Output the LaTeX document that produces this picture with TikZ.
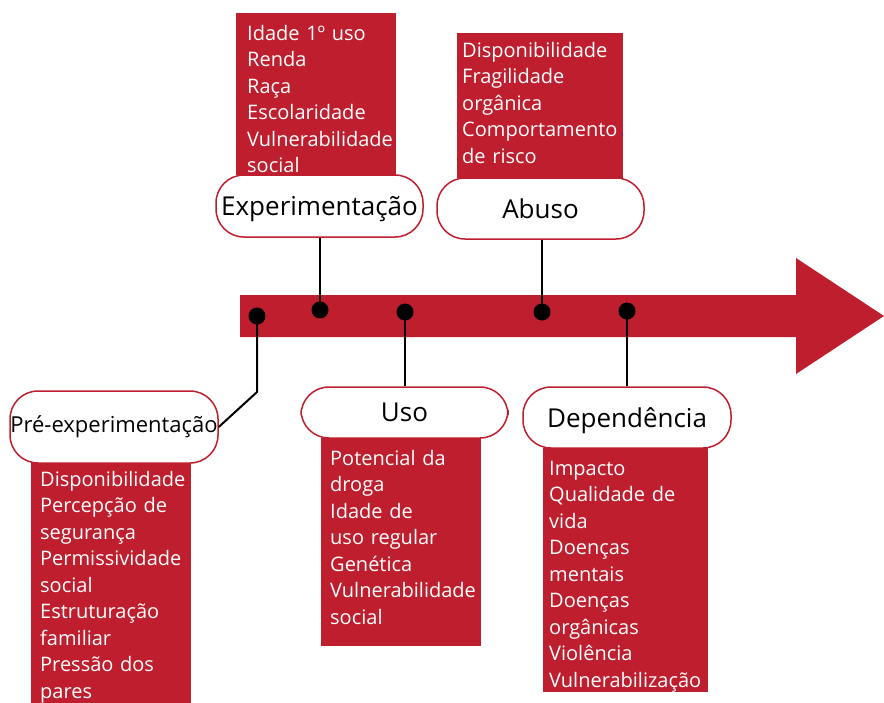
\documentclass[tikz,border=0pt]{standalone}
\usepackage{fontspec}
\setmainfont{Open Sans}
\definecolor{crimson}{RGB}{190,30,45}
\tikzset{
	stage/.style={draw=crimson, line width=1.5pt, fill=white, rounded corners=28pt,
		minimum width=207pt, inner sep=0pt, font=\fontsize{26}{30}\selectfont},
	factors/.style={fill=crimson, text=white, anchor=north west, align=left, inner ysep=0pt,
		font=\fontsize{20}{26.5}\selectfont},
	dot/.style={circle, fill=black, inner sep=0pt, minimum size=17pt},
	link/.style={line width=2pt}
}
\begin{document}
\begin{tikzpicture}[x=1pt, y=-1pt]
	\useasboundingbox (0,0) rectangle (884,702);
	% timeline
	\fill[crimson] (240,295) -- (796,295) -- (796,258) -- (884,316)
		-- (796,374) -- (796,337) -- (240,337) -- cycle;
	% factor lists
	\node[factors, inner xsep=11pt, text width=138pt, text height=27pt, text depth=135pt]
		(expfac) at (236,13)
		{Idade 1º uso\\Renda\\Raça\\Escolaridade\\Vulnerabilidade\\social};
	\node[factors, inner xsep=5pt, text width=156pt, text height=24pt, text depth=121pt]
		(abufac) at (457,33)
		{Disponibilidade\\Fragilidade\\orgânica\\Comportamento\\de risco};
	\node[factors, inner xsep=9pt, text width=142pt, text height=23pt, text depth=221pt]
		(prefac) at (31,463)
		{Disponibilidade\\Percepção de\\segurança\\Permissividade\\social\\Estruturação\\familiar\\Pressão dos\\pares};
	\node[factors, inner xsep=9pt, text width=142pt, text height=27pt, text depth=181pt]
		(usofac) at (321,438)
		{Potencial da\\droga\\Idade de\\uso regular\\Genética\\Vulnerabilidade\\social};
	\node[factors, inner xsep=6pt, text width=153pt, text height=27pt, text depth=217pt]
		(depfac) at (543,448)
		{Impacto\\Qualidade de\\vida\\Doenças\\mentais\\Doenças\\orgânicas\\Violência\\Vulnerabilização};
	% stages
	\path
		(319.5,206)   node[stage, minimum height=62pt, text depth=0pt] (exp) {Experimentação}
		(540.5,208.5) node[stage, minimum height=61pt] (abu) {Abuso}
		(114,427)     node[stage, minimum width=208pt, minimum height=72pt,
		                   font=\fontsize{22}{26}\selectfont] (pre) {Pré-experimentação}
		(404.5,412.5) node[stage, minimum height=51pt] (uso) {Uso}
		(627,417.5)   node[stage, minimum width=208pt, minimum height=61pt, text depth=0pt] (dep) {Dependência}
	;
	% points on the timeline
	\coordinate (prebend) at (257,392);
	\draw[link] (pre.east) -- (prebend) -- (257,316);
	\draw[link] (exp.south -| 320,0) -- (320,310);
	\draw[link] (abu.south -| 542,0) -- (542,312);
	\draw[link] (uso.north -| 405,0) -- (405,312);
	\draw[link] (dep.north -| 627,0) -- (627,311);
	\path
		(257,316) node[dot] (pt1) {}
		(320,310) node[dot] (pt2) {}
		(405,312) node[dot] (pt3) {}
		(542,312) node[dot] (pt4) {}
		(627,311) node[dot] (pt5) {}
	;
\end{tikzpicture}
\end{document}
